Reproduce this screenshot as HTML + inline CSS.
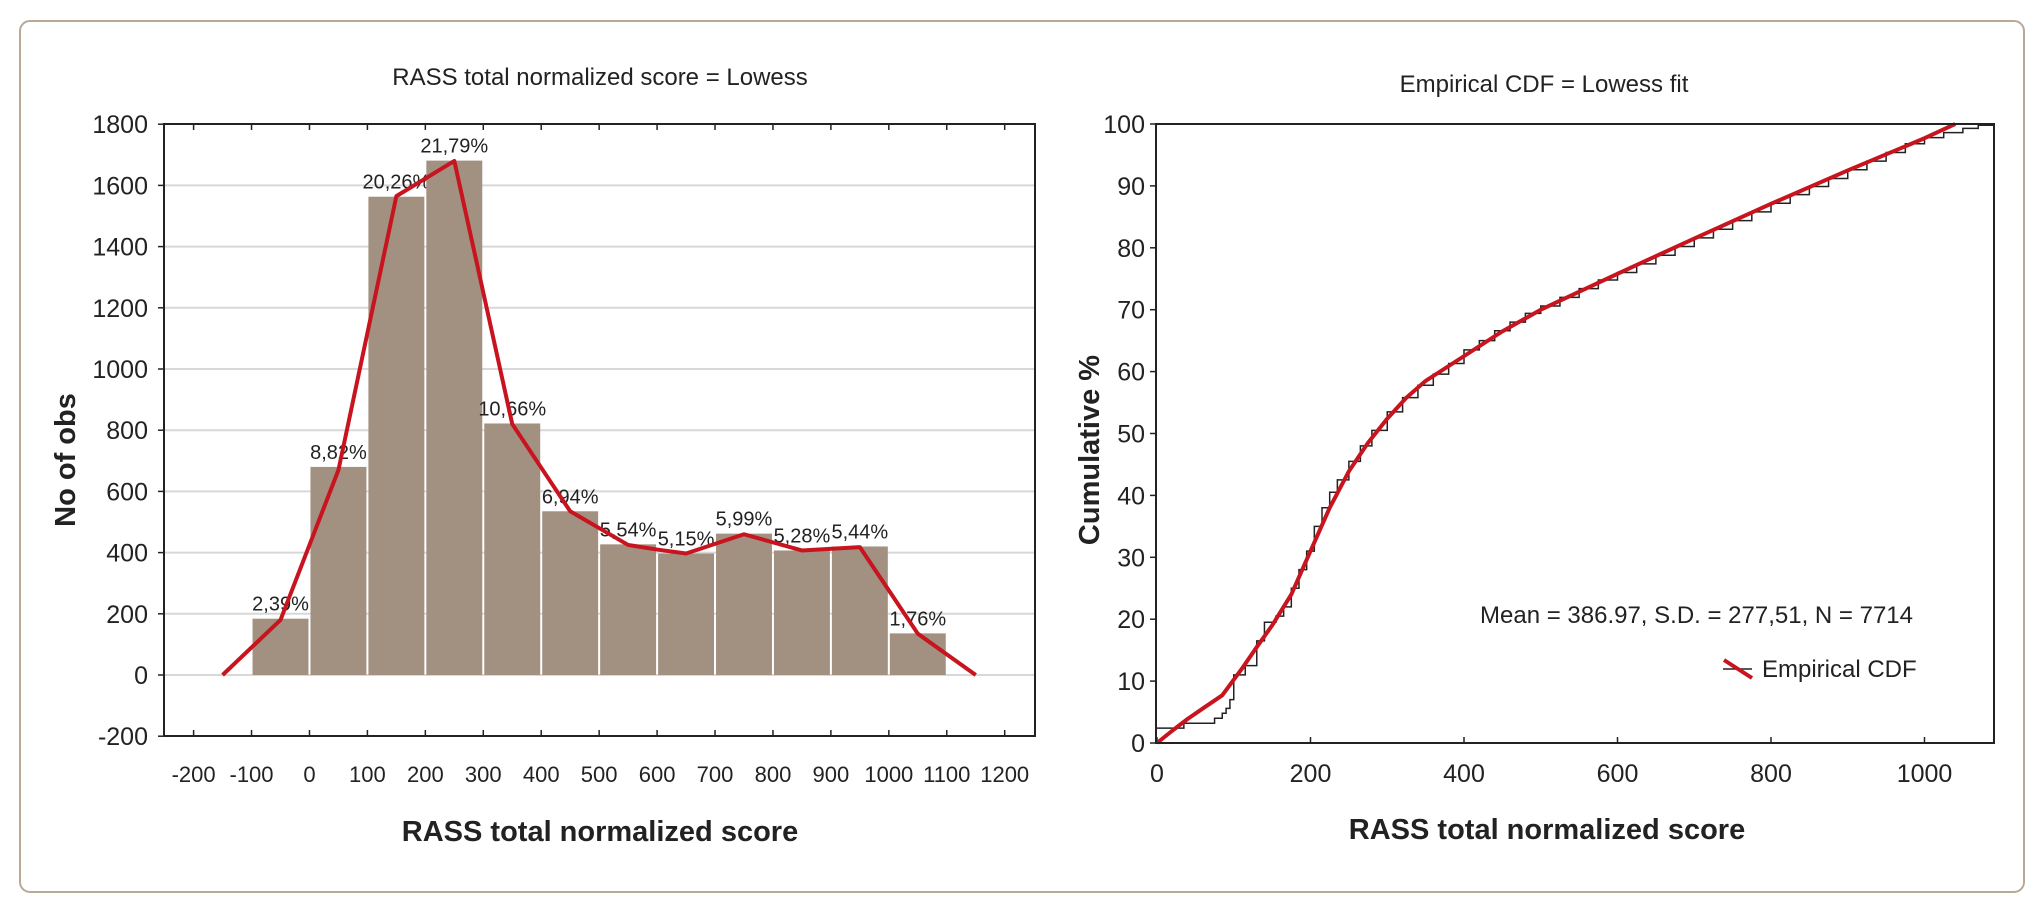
<!DOCTYPE html>
<html><head><meta charset="utf-8"><style>
body{margin:0;background:#fff}
svg text{font-family:"Liberation Sans Narrow","Liberation Sans",sans-serif;fill:#222}
</style></head><body>
<svg id="s" width="2043" height="912" xmlns="http://www.w3.org/2000/svg">
<rect x="20" y="21" width="2004" height="871" rx="10" fill="#fff" stroke="#b9a999" stroke-width="2"/>
<g id="L"></g>
<g id="R"></g>
</svg>
<script>
const histCenters=[-50,50,150,250,350,450,550,650,750,850,950,1050];
const histCounts=[184,680,1563,1681,822,535,427,397,462,407,420,136];
const histLabels=["2,39%","8,82%","20,26%","21,79%","10,66%","6,94%","5,54%","5,15%","5,99%","5,28%","5,44%","1,76%"];
const lowessX=[-150,-50,50,150,250,350,450,550,600,650,750,850,950,1050,1150];
const lowessY=[0,180,670,1565,1680,820,535,425,410,397,460,407,418,135,0];
const histXTicks=[-200,-100,0,100,200,300,400,500,600,700,800,900,1000,1100,1200];
const histYTicks=[-200,0,200,400,600,800,1000,1200,1400,1600,1800];
const cdfFitX=[0,20,40,60,85,110,130,150,175,200,225,250,275,300,325,350,400,450,500,600,700,800,900,1000,1040];
const cdfFitY=[0,2,3.9,5.6,7.7,11.9,15.5,19,24,31,38,43.9,48.5,52.4,55.8,58.5,62.5,66.5,70,75.8,81.5,87.1,92.5,97.7,100];
const cdfEmpX=[0,35,75,85,90,95,100,115,130,140,155,165,175,185,195,205,215,225,235,250,265,280,300,320,340,360,380,400,420,440,460,480,500,525,550,575,600,625,650,675,700,725,750,775,800,825,850,875,900,925,950,975,1000,1025,1050,1070,1090];
const cdfEmpY=[2.4,3.2,4,4.8,5.6,7,11,12.5,16.5,19.5,20.5,22,25,28,31,35,38,40.5,42.5,45.5,48,50.5,53.5,55.8,57.8,59.6,61.3,63.5,65,66.6,68,69.4,70.6,72,73.4,74.8,76,77.4,78.8,80.2,81.6,83,84.4,85.8,87.2,88.6,89.9,91.2,92.6,94,95.4,96.8,97.8,98.6,99.3,99.8,100];
const cdfXTicks=[0,200,400,600,800,1000];
const cdfYTicks=[0,10,20,30,40,50,60,70,80,90,100];
const NS="http://www.w3.org/2000/svg";
function mk(p,t,a,txt){const e=document.createElementNS(NS,t);for(const k in a)e.setAttribute(k,a[k]);if(txt!==undefined)e.textContent=txt;p.appendChild(e);return e;}
const L=document.getElementById('L');
const lx=v=>193.6+(v+200)*(1004.7-193.6)/1400;
const ly=v=>675-v*0.306;
const lb={x0:164,x1:1035,y0:124,y1:736};
let t=mk(L,'text',{x:600,y:85,'text-anchor':'middle','font-size':24});t.textContent='RASS total normalized score = Lowess';


histYTicks.forEach(v=>{
 if(v>-200&&v<1800){const g=mk(L,'line',{x1:lb.x0,x2:lb.x1,y1:ly(v),y2:ly(v),stroke:'#d8d8d8','stroke-width':2});
 
 }
 const tl=mk(L,'text',{x:148,y:ly(v)+9,'text-anchor':'end','font-size':25},String(v));
 
 
 mk(L,'line',{x1:lb.x0-6,x2:lb.x0,y1:ly(v),y2:ly(v),stroke:'#222','stroke-width':1.5});
});
const bw=(lx(100)-lx(0));
histCenters.forEach((c,i)=>{
 const r=mk(L,'rect',{x:lx(c)-bw/2+1,y:ly(histCounts[i]),width:bw-2,height:ly(0)-ly(histCounts[i]),fill:'#a29180'});
 
 
 const tl=mk(L,'text',{x:lx(c),y:ly(histCounts[i])-8,'text-anchor':'middle','font-size':20},histLabels[i]);
 
 
});
const lp=mk(L,'polyline',{points:lowessX.map((x,i)=>lx(x)+','+ly(lowessY[i])).join(' '),fill:'none',stroke:'#c8141e','stroke-width':4,'stroke-linejoin':'round'});


const lbx=mk(L,'rect',{x:lb.x0,y:lb.y0,width:lb.x1-lb.x0,height:lb.y1-lb.y0,fill:'none',stroke:'#222','stroke-width':2});


histXTicks.forEach(v=>{
 mk(L,'line',{x1:lx(v),x2:lx(v),y1:lb.y1,y2:lb.y1-6,stroke:'#222','stroke-width':1.5});
 mk(L,'line',{x1:lx(v),x2:lx(v),y1:lb.y0,y2:lb.y0+6,stroke:'#222','stroke-width':1.5});
 const tl=mk(L,'text',{x:lx(v),y:782,'text-anchor':'middle','font-size':22},String(v));
 
 
});
t=mk(L,'text',{x:600,y:841,'text-anchor':'middle','font-size':29,'font-weight':'bold'},'RASS total normalized score');


t=mk(L,'text',{x:0,y:0,'text-anchor':'middle','font-size':29,'font-weight':'bold',transform:'translate(75,460) rotate(-90)'},'No of obs');


const R=document.getElementById('R');
const rx=v=>1157+v*0.7675;
const ry=v=>743-v*6.19;
const rb={x0:1156,x1:1994,y0:124,y1:743};
t=mk(R,'text',{x:1544,y:92,'text-anchor':'middle','font-size':24},'Empirical CDF = Lowess fit');


cdfYTicks.forEach(v=>{
 mk(R,'line',{x1:rb.x0-6,x2:rb.x0,y1:ry(v),y2:ry(v),stroke:'#222','stroke-width':1.5});
 const tl=mk(R,'text',{x:1145,y:ry(v)+9,'text-anchor':'end','font-size':25},String(v));
 
 
});
cdfXTicks.forEach(v=>{
 mk(R,'line',{x1:rx(v),x2:rx(v),y1:rb.y1,y2:rb.y1-6,stroke:'#222','stroke-width':1.5});
 const tl=mk(R,'text',{x:rx(v),y:782,'text-anchor':'middle','font-size':25},String(v));
 
 
});
let d='M'+rx(cdfEmpX[0])+','+ry(cdfEmpY[0]);
for(let i=1;i<cdfEmpX.length;i++){d+=' H'+rx(cdfEmpX[i])+' V'+ry(cdfEmpY[i]);}
const ep=mk(R,'path',{d:d,fill:'none',stroke:'#222','stroke-width':1.5});


const fp=mk(R,'polyline',{points:cdfFitX.map((x,i)=>rx(x)+','+ry(cdfFitY[i])).join(' '),fill:'none',stroke:'#c8141e','stroke-width':4,'stroke-linejoin':'round'});


const rbx=mk(R,'rect',{x:rb.x0,y:rb.y0,width:rb.x1-rb.x0,height:rb.y1-rb.y0,fill:'none',stroke:'#222','stroke-width':2});


t=mk(R,'text',{x:1913,y:623,'text-anchor':'end','font-size':24},'Mean = 386.97, S.D. = 277,51, N = 7714');


const lg=mk(R,'g',{});


mk(lg,'line',{x1:1723,x2:1752,y1:669,y2:669,stroke:'#222','stroke-width':1.5});
mk(lg,'line',{x1:1724,x2:1752,y1:660,y2:678,stroke:'#c8141e','stroke-width':4});
mk(lg,'text',{x:1762,y:677,'font-size':24},'Empirical CDF');
t=mk(R,'text',{x:1547,y:839,'text-anchor':'middle','font-size':29,'font-weight':'bold'},'RASS total normalized score');


t=mk(R,'text',{x:0,y:0,'text-anchor':'middle','font-size':29,'font-weight':'bold',transform:'translate(1099,450) rotate(-90)'},'Cumulative %');


</script>
</body></html>
